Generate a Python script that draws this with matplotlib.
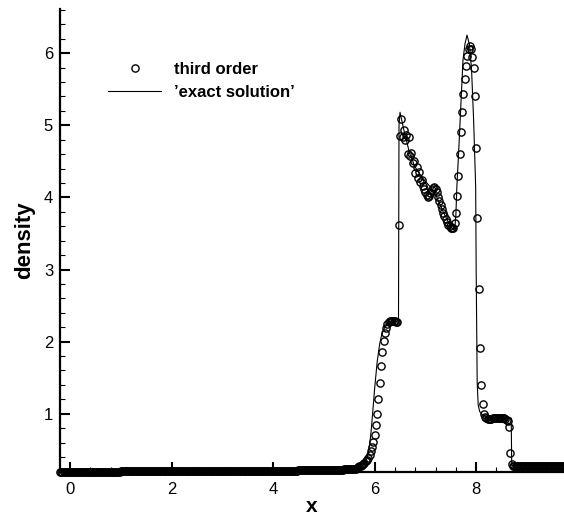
import matplotlib.pyplot as plt
import numpy as np
from matplotlib.ticker import MultipleLocator

plt.rcParams['font.family'] = ['Liberation Sans', 'DejaVu Sans']

# third order scheme, cell values on a uniform grid (dx = 0.025) starting at x = -0.2
rho_left = [
    0.19, 0.19, 0.19, 0.19, 0.19, 0.19, 0.19, 0.19, 0.19, 0.19, 0.19, 0.19, 0.19, 0.19, 0.19, 0.19,
    0.19, 0.19, 0.19, 0.19, 0.19, 0.19, 0.19, 0.19, 0.19, 0.19, 0.19, 0.19, 0.19, 0.19, 0.19, 0.19,
    0.19, 0.19, 0.19, 0.19, 0.19, 0.19, 0.19, 0.19, 0.19, 0.19, 0.19, 0.19, 0.19, 0.19, 0.19, 0.19,
    0.20, 0.20, 0.20, 0.20, 0.20, 0.20, 0.20, 0.20, 0.20, 0.20, 0.20, 0.20, 0.20, 0.20, 0.20, 0.20,
    0.20, 0.20, 0.20, 0.20, 0.20, 0.20, 0.20, 0.20, 0.20, 0.20, 0.20, 0.20, 0.20, 0.20, 0.20, 0.20,
    0.20, 0.20, 0.20, 0.20, 0.20, 0.20, 0.20, 0.20, 0.20, 0.20, 0.20, 0.20, 0.20, 0.20, 0.20, 0.20,
    0.20, 0.20, 0.20, 0.20, 0.20, 0.20, 0.20, 0.20, 0.20, 0.20, 0.20, 0.20, 0.20, 0.20, 0.20, 0.20,
    0.20, 0.20, 0.20, 0.20, 0.20, 0.20, 0.20, 0.20, 0.20, 0.20, 0.20, 0.20, 0.20, 0.20, 0.20, 0.20,
    0.21, 0.21, 0.21, 0.21, 0.21, 0.21, 0.21, 0.21, 0.21, 0.21, 0.21, 0.21, 0.21, 0.21, 0.21, 0.21,
    0.21, 0.21, 0.21, 0.21, 0.21, 0.21, 0.21, 0.21, 0.21, 0.21, 0.21, 0.21, 0.21, 0.21, 0.21, 0.21,
    0.21, 0.21, 0.21, 0.21, 0.21, 0.21, 0.21, 0.21, 0.21, 0.21, 0.21, 0.21, 0.21, 0.21, 0.21, 0.21,
    0.21, 0.21, 0.21, 0.21, 0.21, 0.21, 0.21, 0.21, 0.21, 0.21, 0.21, 0.21,
    0.22, 0.22, 0.22, 0.22, 0.22, 0.22, 0.22, 0.22, 0.22, 0.22, 0.22, 0.22, 0.22, 0.22, 0.22, 0.22,
    0.22, 0.22, 0.22, 0.22, 0.22, 0.22, 0.22, 0.22, 0.22, 0.22, 0.22, 0.22, 0.22, 0.22, 0.22, 0.22,
    0.22, 0.22, 0.22, 0.22, 0.23, 0.23, 0.23, 0.23, 0.23, 0.23, 0.23, 0.23,
]
rho_rise = [
    0.24, 0.24, 0.25, 0.26, 0.27, 0.28, 0.29, 0.30, 0.32, 0.34, 0.36, 0.39, 0.43, 0.48, 0.54, 0.61,
    0.71, 0.84, 1.00, 1.20, 1.43, 1.66, 1.86, 2.01, 2.12, 2.19, 2.24, 2.27, 2.28, 2.29, 2.29, 2.29,
    2.28, 2.27, 2.27, 3.62,
]
rho_middle = [
    4.85, 5.09, 4.84, 4.93, 4.80, 4.87, 4.60, 4.84, 4.58, 4.62,
    4.47, 4.50, 4.34, 4.42, 4.27, 4.35, 4.22, 4.24, 4.16, 4.12,
    4.08, 4.03, 4.00, 4.02, 4.06, 4.10, 4.13, 4.14, 4.12, 4.07,
    4.01, 3.95, 3.89, 3.84, 3.79, 3.74, 3.70, 3.66, 3.62, 3.60,
    3.58, 3.57, 3.58,
]
rho_peak = [
    3.64, 3.79, 4.02, 4.30, 4.60, 4.90, 5.18, 5.43, 5.64, 5.82,
    5.96, 6.06, 6.10, 6.06, 5.95, 5.80, 5.40, 4.68, 3.72, 2.73,
    1.91, 1.40, 1.13, 1.00, 0.95,
    0.94, 0.93, 0.93, 0.93, 0.93, 0.94, 0.94, 0.94, 0.94, 0.94, 0.94, 0.94, 0.94, 0.94, 0.94,
    0.93, 0.92, 0.90, 0.81, 0.45, 0.30, 0.28,
]
rho_right = [
    0.28, 0.28, 0.28, 0.28, 0.28, 0.28, 0.28, 0.28, 0.28, 0.28, 0.28, 0.28, 0.28, 0.28,
    0.28, 0.28, 0.28, 0.28, 0.28, 0.28, 0.28, 0.28, 0.28, 0.28, 0.28, 0.28, 0.28, 0.28,
    0.28, 0.28, 0.28, 0.28, 0.28, 0.28, 0.28, 0.28, 0.28, 0.28, 0.28, 0.28, 0.28, 0.28,
]
rho_num = np.array(rho_left + rho_rise + rho_middle + rho_peak + rho_right)
x_num = -0.2 + 0.025 * np.arange(len(rho_num))

# reference ("exact") solution
x_exact = [-0.2, 2.0, 4.0, 5.3, 5.5, 5.6, 5.7, 5.8, 5.85, 5.89, 5.93, 5.96, 6.0, 6.05, 6.1,
           6.14, 6.2, 6.3, 6.47, 6.48, 6.5, 6.59, 6.69, 6.79, 6.92, 7.09, 7.22, 7.35, 7.48,
           7.55, 7.58, 7.6, 7.62, 7.66, 7.7, 7.74, 7.78, 7.82, 7.87, 7.91, 7.95, 7.99, 8.0,
           8.02, 8.04, 8.07, 8.14, 8.3, 8.66, 8.69, 8.7, 8.72, 9.8]
rho_exact = [0.19, 0.20, 0.21, 0.22, 0.23, 0.24, 0.26, 0.30, 0.38, 0.50, 0.75, 1.00, 1.35,
             1.72, 1.97, 2.10, 2.20, 2.26, 2.29, 5.00, 5.18, 4.89, 4.61, 4.43, 4.29, 4.15,
             4.01, 3.80, 3.62, 3.55, 3.58, 3.75, 4.15, 4.70, 5.30, 5.90, 6.13, 6.25, 6.11,
             5.76, 5.07, 4.15, 3.00, 1.43, 1.12, 1.03, 0.97, 0.95, 0.94, 0.94, 0.30, 0.28, 0.28]

fig = plt.figure(figsize=(5.64, 5.16), dpi=100)
ax = fig.add_axes([0.1064, 0.0853, 0.8936, 0.897])

ax.plot(x_num, rho_num, linestyle='none', marker='o', markersize=5.2,
        markerfacecolor='none', markeredgecolor='black', markeredgewidth=1.0,
        clip_on=False, label='third order')
ax.plot(x_exact, rho_exact, color='black', lw=0.8, label='\u2019exact solution\u2019')

ax.set_xlim(-0.197, 9.73)
ax.set_ylim(0.193, 6.61)

for side in ['top', 'right']:
    ax.spines[side].set_visible(False)
for side in ['left', 'bottom']:
    ax.spines[side].set_linewidth(1.6)

ax.xaxis.set_major_locator(MultipleLocator(2))
ax.xaxis.set_minor_locator(MultipleLocator(0.4))
ax.yaxis.set_major_locator(MultipleLocator(1))
ax.yaxis.set_minor_locator(MultipleLocator(0.2))
ax.tick_params(which='major', direction='in', length=7, width=1.5, labelsize=12)
ax.tick_params(which='minor', direction='in', length=3.5, width=0.8)
ax.tick_params(axis='x', pad=7)
ax.tick_params(axis='y', pad=5)

ax.set_xlabel('x', fontsize=15, fontweight='bold', labelpad=0)
ax.set_ylabel('density', fontsize=16, fontweight='bold', labelpad=6)

ax.legend(loc='upper left', bbox_to_anchor=(0.082, 0.900), borderaxespad=0, frameon=False,
          prop={'weight': 'bold', 'size': 12}, handlelength=3.2, handletextpad=0.75,
          labelspacing=0.45, numpoints=1)

plt.savefig('out.png', dpi=100)
